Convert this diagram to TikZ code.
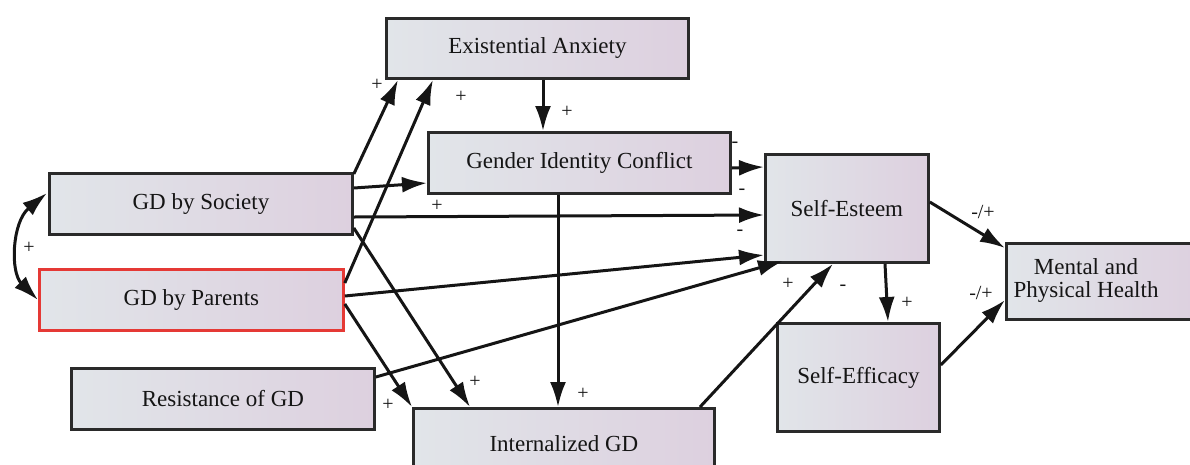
\documentclass[tikz,border=0pt]{standalone}
\usepackage{fontspec}
\setmainfont{Liberation Serif}
\newfontfamily\labelfont{Liberation Serif}
\usetikzlibrary{arrows.meta,calc}
\definecolor{boxleft}{HTML}{E1E5E9}
\definecolor{boxright}{HTML}{DDD0DF}
\definecolor{frame}{HTML}{2A2A2A}
\definecolor{ink}{HTML}{151515}
\definecolor{redline}{HTML}{E53935}
\begin{document}
\begin{tikzpicture}[x=1pt,y=-1pt,
  box/.style={draw=frame,line width=2.8pt,left color=boxleft,right color=boxright,
    anchor=north west,inner sep=0pt,font=\labelfont\fontsize{23}{27}\selectfont,text=ink},
  link/.style={draw=ink,line width=3pt,-{Latex[length=25pt,width=16pt]}},
  sign/.style={font=\labelfont\fontsize{20}{20}\selectfont,text=ink,inner sep=0pt}]
\useasboundingbox (0,0) rectangle (1190,464);

% variables
\node[box,minimum width=302pt,minimum height=60pt] (ea)  at (385,17)  {Existential Anxiety};
\node[box,minimum width=302pt,minimum height=61pt] (gic) at (427,131) {Gender Identity Conflict};
\node[box,minimum width=303pt,minimum height=61pt] (soc) at (48,172)  {GD by Society};
\node[box,draw=redline,minimum width=304pt,minimum height=61pt] (par) at (38,268) {GD by Parents};
\node[box,minimum width=303pt,minimum height=61pt] (res) at (70,367)  {Resistance of GD};
\node[box,minimum width=301pt,minimum height=70pt] (int) at (412,407) {Internalized GD};
\node[box,minimum width=163pt,minimum height=108pt] (se)  at (764,153) {Self-Esteem};
\node[box,minimum width=162pt,minimum height=108pt] (sef) at (776,322) {Self-Efficacy};
\node[box,minimum width=195pt,minimum height=76pt] (mph) at (1005,242) {};
\node[font=\labelfont\fontsize{23}{23}\selectfont,text=ink,align=center,inner sep=0pt] (mphlabel)
  at (1086,280) {Mental and\\Physical Health};

% paths
\draw[link] ($(soc.north east)+(0,2)$)  -- ($(ea.south west)+(13,0)$);
\draw[link] ($(par.north east)+(0,15)$) -- ($(ea.south west)+(48,0)$);
\draw[link] ($(ea.south west)+(158,0)$) -- ($(gic.north west)+(116,0)$);
\draw[link] ($(soc.north east)+(0,16)$) -- ($(gic.north west)+(0,52)$);
\draw[link] ($(soc.north east)+(0,45)$) -- ($(se.north west)+(0,62)$);
\draw[link] ($(soc.north east)+(0,56)$) -- ($(int.north west)+(58,0)$);
\draw[link] ($(par.north east)+(0,36)$) -- (int.north west);
\draw[link] ($(par.north east)+(0,28)$) -- ($(se.north west)+(0,102)$);
\draw[link] ($(res.north east)+(0,10)$) -- ($(se.north west)+(19,108)$);
\draw[link] ($(gic.north east)+(0,37)$) -- ($(se.north west)+(0,14)$);
\draw[link] ($(gic.south west)+(131,0)$) -- ($(int.north west)+(146,0)$);
\draw[link] ($(int.north west)+(288,0)$) -- ($(se.south west)+(69,0)$);
\draw[link] ($(se.south west)+(121,0)$) -- ($(sef.north west)+(112,0)$);
\draw[link] ($(se.north east)+(0,49)$)  -- ($(mph.north west)+(0,6)$);
\draw[link] ($(sef.north east)+(0,43)$) -- ($(mph.north west)+(0,58)$);
\draw[draw=ink,line width=3pt,{Latex[length=25pt,width=16pt]}-{Latex[length=25pt,width=16pt]}]
  ($(soc.north west)+(-1,21)$) .. controls (12,222) and (10,272) .. ($(par.north west)+(0,32)$);

% signs
\node[sign] (s1)  at (377,85)  {+};
\node[sign] (s2)  at (461,97)  {+};
\node[sign] (s3)  at (567,112) {+};
\node[sign] (s4)  at (437,206) {+};
\node[sign] (s5)  at (735,145) {-};
\node[sign] (s6)  at (742,192) {-};
\node[sign] (s7)  at (740,233) {-};
\node[sign] (s8)  at (788,284) {+};
\node[sign] (s9)  at (843,288) {-};
\node[sign] (s10) at (907,303) {+};
\node[sign] (s11) at (983,212) {-/+};
\node[sign] (s12) at (981,293) {-/+};
\node[sign] (s13) at (29,248)  {+};
\node[sign] (s14) at (388,405) {+};
\node[sign] (s15) at (475,382) {+};
\node[sign] (s16) at (583,394) {+};
\end{tikzpicture}
\end{document}
